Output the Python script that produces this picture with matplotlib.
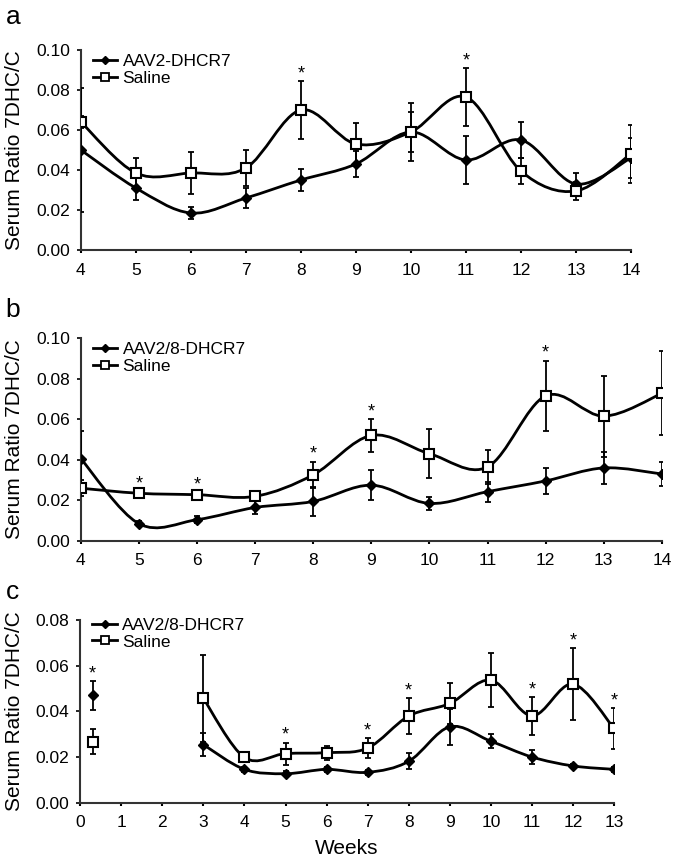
import numpy as np
import matplotlib
matplotlib.use("Agg")
import matplotlib.pyplot as plt
from matplotlib.path import Path
from matplotlib.patches import PathPatch
from matplotlib.lines import Line2D

plt.rcParams['font.family'] = ['Liberation Sans', 'DejaVu Sans']

# Panel a: AAV2 vector, weeks 4-14
weeks_a = [4, 5, 6, 7, 8, 9, 10, 11, 12, 13, 14]
aav2_a = [0.050, 0.031, 0.0185, 0.026, 0.035, 0.043, 0.059, 0.045, 0.055, 0.033, 0.046]
aav2_a_err = [0.031, 0.006, 0.003, 0.005, 0.0055, 0.0065, 0.010, 0.012, 0.009, 0.0055, 0.010]
saline_a = [0.064, 0.0385, 0.0385, 0.041, 0.070, 0.053, 0.059, 0.0765, 0.0395, 0.0295, 0.048]
saline_a_err = [0.003, 0.0075, 0.0105, 0.009, 0.0145, 0.0105, 0.0145, 0.0145, 0.0065, 0.0045, 0.0147]
stars_a = [8, 11]

# Panel b: AAV2/8 vector, weeks 4-14
weeks_b = [4, 5, 6, 7, 8, 9, 10, 11, 12, 13, 14]
aav28_b = [0.0405, 0.0085, 0.0105, 0.0165, 0.0195, 0.0275, 0.0185, 0.0243, 0.0296, 0.036, 0.033]
aav28_b_err = [0.0135, 0.0012, 0.0018, 0.003, 0.007, 0.0075, 0.003, 0.005, 0.0066, 0.008, 0.006]
saline_b = [0.026, 0.0235, 0.0228, 0.022, 0.0326, 0.052, 0.043, 0.0365, 0.0715, 0.0615, 0.0727]
saline_b_err = [0.004, 0.0012, 0.0012, 0.0015, 0.0065, 0.008, 0.012, 0.0085, 0.0174, 0.020, 0.0207]
stars_b = [5, 6, 8, 9, 12]

# Panel c: AAV2/8 vector, baseline point then weeks 3-13
weeks_c = [0.3, 3, 4, 5, 6, 7, 8, 9, 10, 11, 12, 13]
aav28_c = [0.047, 0.0255, 0.0147, 0.0128, 0.0147, 0.0134, 0.0182, 0.0333, 0.027, 0.0201, 0.0162, 0.0147]
aav28_c_err = [0.0064, 0.005, 0.001, 0.001, 0.001, 0.001, 0.0035, 0.008, 0.003, 0.003, 0.001, 0.001]
saline_c = [0.0267, 0.0457, 0.0199, 0.0216, 0.022, 0.024, 0.038, 0.0435, 0.0537, 0.0381, 0.052, 0.0326]
saline_c_err = [0.0055, 0.019, 0.0015, 0.0048, 0.003, 0.0044, 0.0077, 0.009, 0.0117, 0.0083, 0.0156, 0.009]
stars_c = [0.3, 5, 7, 8, 11, 12, 13]
line_start_c = 1  # first point (baseline) is not joined to the curve


def smooth_path(x, y):
    # Catmull-Rom style bezier through the points (like a spreadsheet "smoothed line")
    p = np.column_stack([x, y]).astype(float)
    verts = [p[0]]
    codes = [Path.MOVETO]
    n = len(p)
    for i in range(n - 1):
        p0 = p[i - 1] if i > 0 else p[i]
        p1, p2 = p[i], p[i + 1]
        p3 = p[i + 2] if i + 2 < n else p[i + 1]
        verts += [p1 + (p2 - p0) / 6.0, p2 - (p3 - p1) / 6.0, p2]
        codes += [Path.CURVE4] * 3
    return Path(verts, codes)


def draw_panel(ax, x, treat, treat_err, sal, sal_err, stars, label, ymax, xticks,
               start=0, legend_y=1.03):
    for vals in (treat, sal):
        path = smooth_path(x[start:], vals[start:])
        ax.add_patch(PathPatch(path, facecolor='none', edgecolor='black', lw=2.0,
                               transform=ax.transData, zorder=2))
    ax.errorbar(x, treat, yerr=treat_err, fmt='none', ecolor='black',
                elinewidth=1.3, capsize=2.5, capthick=1.3, zorder=3)
    ax.errorbar(x, sal, yerr=sal_err, fmt='none', ecolor='black',
                elinewidth=1.3, capsize=2.5, capthick=1.3, zorder=3)
    ax.plot(x, treat, ls='none', marker='D', ms=5, mfc='black', mec='black', zorder=4)
    ax.plot(x, sal, ls='none', marker='s', ms=7.5, mfc='white', mec='black', mew=1.5, zorder=5)

    # significance stars above the highest error bar
    for s in stars:
        i = list(x).index(s)
        top = max(treat[i] + treat_err[i], sal[i] + sal_err[i])
        ax.annotate('*', (s, top), xytext=(0, 2), textcoords='offset points',
                    ha='center', va='baseline', fontsize=13)

    ax.set_xlim(xticks[0], xticks[-1])
    ax.set_ylim(0, ymax)
    ax.set_xticks(xticks)
    ax.set_yticks(np.arange(0, ymax + 1e-9, 0.02))
    ax.yaxis.set_major_formatter(matplotlib.ticker.FormatStrFormatter('%.2f'))
    for side in ('top', 'right'):
        ax.spines[side].set_visible(False)
    for side in ('left', 'bottom'):
        ax.spines[side].set_linewidth(1.5)
        ax.spines[side].set_color('#333333')
    ax.tick_params(axis='y', direction='out', length=3, width=1.2, pad=5, labelsize=12.5)
    ax.tick_params(axis='x', direction='out', length=2, width=1.5, pad=7, labelsize=12.5)

    handles = [Line2D([], [], color='black', lw=2.0, marker='D', ms=4.5),
               Line2D([], [], color='black', lw=2.0, marker='s', ms=6, mfc='white', mew=1.3)]
    ax.legend(handles, [label, 'Saline'], loc='upper left', bbox_to_anchor=(0.0, legend_y),
              frameon=False, fontsize=12.5, handlelength=1.4, handletextpad=0.3,
              labelspacing=0.1, borderaxespad=0.3)


fig = plt.figure(figsize=(6.74, 8.61), dpi=100)
ax_a = fig.add_axes([0.120, 0.7096, 0.816, 0.2324])
ax_b = fig.add_axes([0.120, 0.3717, 0.862, 0.2357])
ax_c = fig.add_axes([0.119, 0.0674, 0.792, 0.2125])

draw_panel(ax_a, weeks_a, aav2_a, aav2_a_err, saline_a, saline_a_err, stars_a,
           'AAV2-DHCR7', 0.10, list(range(4, 15)), legend_y=1.04)
draw_panel(ax_b, weeks_b, aav28_b, aav28_b_err, saline_b, saline_b_err, stars_b,
           'AAV2/8-DHCR7', 0.10, list(range(4, 15)), legend_y=1.04)
draw_panel(ax_c, weeks_c, aav28_c, aav28_c_err, saline_c, saline_c_err, stars_c,
           'AAV2/8-DHCR7', 0.08, list(range(0, 14)), start=line_start_c, legend_y=1.08)

ax_c.set_xlabel('Weeks', fontsize=15, labelpad=6)

# panel letters and y labels
for ax, letter, ly in ((ax_a, 'a', 1 - 17 / 861), (ax_b, 'b', 1 - 310 / 861), (ax_c, 'c', 1 - 592 / 861)):
    fig.text(0.008, ly, letter, fontsize=19, va='center', ha='left')
    pos = ax.get_position()
    fig.text(0.022, (pos.y0 + pos.y1) / 2, 'Serum Ratio 7DHC/C', rotation=90,
             fontsize=15, va='center', ha='center')

fig.savefig('out.png', dpi=100)
